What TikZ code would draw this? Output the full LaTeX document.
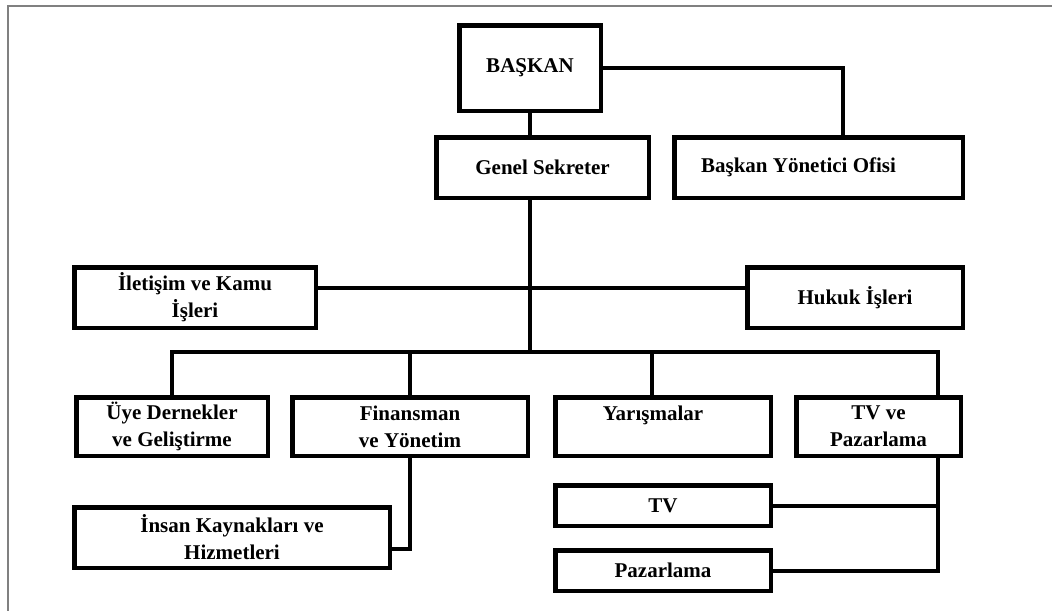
\documentclass[tikz,border=0pt]{standalone}
\usepackage{fontspec}
\setmainfont{Liberation Serif}
\usepackage{tikz}

\begin{document}
\begin{tikzpicture}[x=1pt,y=-1pt,
    kutu/.style={draw, line width=4.5pt, align=center, inner sep=0pt,
      font=\fontsize{21}{27}\selectfont\bfseries},
    hat/.style={line width=4pt}]
  \useasboundingbox (0,0) rectangle (1052,611);
  \draw[black!50, line width=1.8pt] (1052,6) -- (8,6) -- (8,611);

  \node[kutu, minimum width=141.5, minimum height=85.5] (baskan) at (530,68) {BAŞKAN};
  \node[kutu, minimum width=212.5, minimum height=60.5] (genel) at (542.5,167.5) {Genel Sekreter};
  \node[kutu, minimum width=288.5, minimum height=60.5] (ofis) at (818.5,167.5) {Başkan Yönetici Ofisi\hspace*{40pt}};
  \node[kutu, minimum width=241.5, minimum height=60.5] (iletisim) at (195,297.5) {İletişim ve Kamu\\İşleri};
  \node[kutu, minimum width=215.5, minimum height=60.5] (hukuk) at (855,297.5) {Hukuk İşleri};
  \node[kutu, minimum width=191.5, minimum height=58.5] (uye) at (172,426.5) {Üye Dernekler\\ve Geliştirme};
  \node[kutu, minimum width=235.5, minimum height=58.5] (finans) at (410,426.5) {Finansman\\ve Yönetim};
  \node[kutu, minimum width=215.5, minimum height=58.5] (yaris) at (663,426.5) {Yarışmalar\hspace*{20pt}\\\mbox{}};
  \node[kutu, minimum width=164.5, minimum height=58.5] (tvpaz) at (878.5,426.5) {TV ve\\Pazarlama};
  \node[kutu, minimum width=315.5, minimum height=60.5] (insan) at (232,537.5) {İnsan Kaynakları ve\\Hizmetleri};
  \node[kutu, minimum width=215.5, minimum height=40.5] (tv) at (663,505.5) {TV};
  \node[kutu, minimum width=215.5, minimum height=40.5] (paz) at (663,570.5) {Pazarlama};

  \coordinate (bus) at (530,352);
  \coordinate (tvhat) at ([xshift=59.5pt]tvpaz.south);

  \draw[hat] (baskan.south) -- (baskan.south |- genel.north);
  \draw[hat] (baskan.east) -| ([xshift=24.5pt]ofis.north);
  \draw[hat] (genel.south -| bus) -- (bus);
  \draw[hat] ([yshift=9.5pt]iletisim.east) -- ([yshift=9.5pt]hukuk.west);
  \draw[hat] (uye.north) |- (bus);
  \draw[hat] ([xshift=59.5pt]tvpaz.north) |- (bus);
  \draw[hat] (finans.north) -- (finans.north |- bus);
  \draw[hat] ([xshift=-11pt]yaris.north) -- ([xshift=-11pt]yaris.north |- bus);
  \draw[hat] (finans.south) |- ([yshift=-11.5pt]insan.east);
  \draw[hat] (tvhat) |- (paz.east);
  \draw[hat] (tv.east) -- (tv.east -| tvhat);
\end{tikzpicture}
\end{document}
